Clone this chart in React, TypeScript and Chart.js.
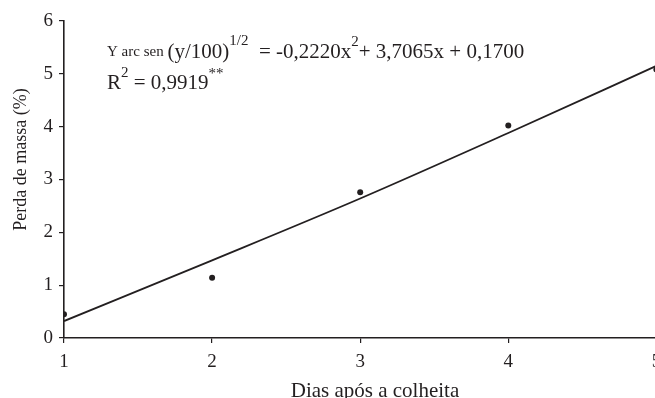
import React, { useEffect, useRef } from "react";
import { Chart, registerables } from "chart.js";

Chart.register(...registerables);

const days = [1, 2, 3, 4, 5];
const observedLoss = [0.45, 1.14, 2.76, 4.02, 5.08];
const fittedLoss = [0.32, 1.47, 2.64, 3.88, 5.15];
const yTicks = [0, 1, 2, 3, 4, 5, 6];
const xTicks = [1, 2, 3, 4, 5];
const xTitle = "Dias após a colheita";
const yTitle = "Perda de massa (%)";

const FONT = "'Liberation Serif', 'Times New Roman', serif";
const INK = "#231f20";

const textPlugin = {
  id: "annotText",
  afterDraw(chart: any) {
    const ctx = chart.ctx as CanvasRenderingContext2D;
    ctx.save();
    ctx.fillStyle = INK;
    ctx.textBaseline = "alphabetic";
    ctx.textAlign = "left";
    const seq = (x: number, y: number, parts: [string, number, number][]) => {
      let cx = x;
      for (const [t, size, rise] of parts) {
        ctx.font = `${size}px ${FONT}`;
        ctx.fillText(t, cx, y - rise);
        cx += ctx.measureText(t).width;
      }
    };
    seq(107, 58, [
      ["Y arc sen ", 15, 2],
      ["(y/100)", 21, 0],
      ["1/2", 15, 13],
      ["  = -0,2220x", 21, 0],
      ["2", 15, 12],
      ["+ 3,7065x + 0,1700", 21, 0],
    ]);
    seq(107, 89, [
      ["R", 21, 0],
      ["2", 15, 12],
      [" = 0,9919", 21, 0],
      ["**", 15, 11],
    ]);
    // axis titles
    ctx.font = `21px ${FONT}`;
    ctx.textAlign = "center";
    ctx.fillText(xTitle, 375, 397);
    ctx.save();
    ctx.translate(26, 159.5);
    ctx.rotate(-Math.PI / 2);
    ctx.textBaseline = "alphabetic";
    ctx.font = `18px ${FONT}`;
    ctx.fillText(yTitle, 0, 0);
    ctx.restore();
    ctx.restore();
  },
};

export default function App() {
  const ref = useRef<HTMLCanvasElement | null>(null);
  useEffect(() => {
    const canvas = ref.current;
    if (!canvas) return;
    const chart = new Chart(canvas, {
      type: "scatter",
      data: {
        datasets: [
          {
            label: "fit",
            data: days.map((d, i) => ({ x: d, y: fittedLoss[i] })),
            showLine: true,
            borderColor: INK,
            borderWidth: 1.8,
            pointRadius: 0,
            cubicInterpolationMode: "monotone",
          },
          {
            label: "obs",
            data: days.map((d, i) => ({ x: d, y: observedLoss[i] })),
            showLine: false,
            backgroundColor: INK,
            borderColor: INK,
            pointRadius: 3,
            pointBorderWidth: 0,
          },
        ],
      },
      options: {
        animation: false,
        responsive: false,
        maintainAspectRatio: false,
        layout: { padding: { left: 0, right: 14, top: 21, bottom: 0 } },
        plugins: { legend: { display: false }, tooltip: { enabled: false } },
        scales: {
          x: {
            type: "linear",
            min: 1,
            max: 5.2,
            afterBuildTicks: (s: any) => {
              s.ticks = xTicks.map((v) => ({ value: v }));
            },
            afterFit: (s: any) => {
              s.height = 60;
            },
            grid: { drawOnChartArea: false, drawTicks: true, tickLength: 5, color: INK, lineWidth: 1.2 },
            border: { display: true, color: INK, width: 1.6 },
            ticks: { color: INK, font: { family: FONT, size: 19 }, padding: 8, maxRotation: 0 },
          },
          y: {
            type: "linear",
            min: 0,
            max: 6,
            afterBuildTicks: (s: any) => {
              s.ticks = yTicks.map((v) => ({ value: v }));
            },
            afterFit: (s: any) => {
              s.width = 64;
            },
            grid: { drawOnChartArea: false, drawTicks: true, tickLength: 5, color: INK, lineWidth: 1.2 },
            border: { display: true, color: INK, width: 1.6 },
            ticks: { color: INK, font: { family: FONT, size: 19 }, padding: 6 },
          },
        },
      },
      plugins: [textPlugin],
    } as any);
    return () => chart.destroy();
  }, []);
  return (
    <div style={{ position: "fixed", left: 0, top: 0, width: 700, height: 398, background: "#fff" }}>
      <canvas ref={ref} width={700} height={398} style={{ width: 700, height: 398 }} />
    </div>
  );
}
